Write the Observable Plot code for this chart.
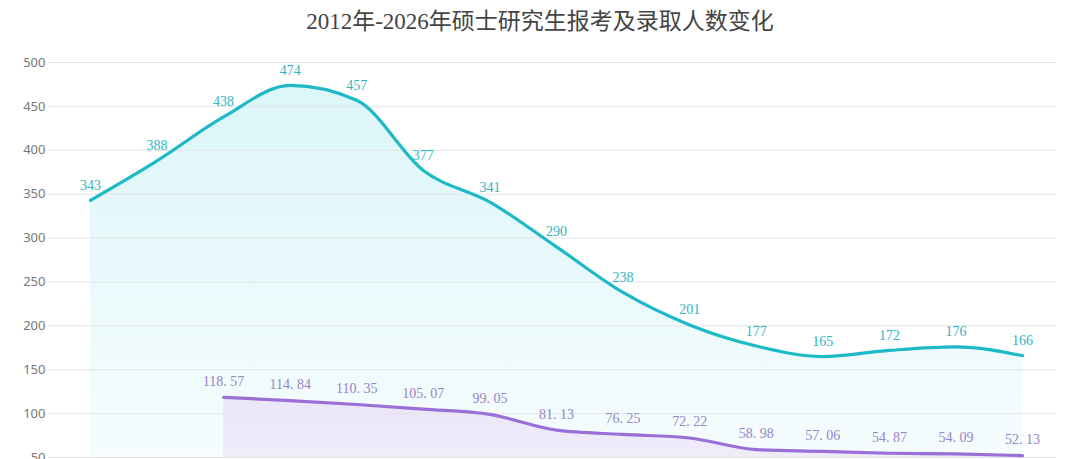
<!DOCTYPE html>
<html>
<head>
<meta charset="utf-8">
<script src="https://cdn.jsdelivr.net/npm/d3@7"></script>
<script src="https://cdn.jsdelivr.net/npm/@observablehq/plot@0.6"></script>
<style>
  html, body { margin: 0; padding: 0; background: #fff; }
  #title {
    height: 45px; line-height: 44px; text-align: center;
    font-family: "Liberation Serif", "DejaVu Serif", "Noto Sans CJK SC", serif;
    font-size: 23px; color: #444;
  }
  #chart svg { display: block; }
</style>
</head>
<body>
<div id="title">2012年-2026年硕士研究生报考及录取人数变化</div>
<div id="chart"></div>
<script>
const years = [2026, 2025, 2024, 2023, 2022, 2021, 2020, 2019, 2018, 2017, 2016, 2015, 2014, 2013, 2012];
const applicants = [343, 388, 438, 474, 457, 377, 341, 290, 238, 201, 177, 165, 172, 176, 166];
const admitYears = [2024, 2023, 2022, 2021, 2020, 2019, 2018, 2017, 2016, 2015, 2014, 2013, 2012];
const admitted = [118.57, 114.84, 110.35, 105.07, 99.05, 81.13, 76.25, 72.22, 58.98, 57.06, 54.87, 54.09, 52.13];
const yTicks = [50, 100, 150, 200, 250, 300, 350, 400, 450, 500];

const appData = years.map((y, i) => ({year: y, value: applicants[i]}));
const admData = admitYears.map((y, i) => ({year: y, value: admitted[i]}));

const cyan = "#1db9c7";
const purple = "#9a6fd8";
const curve = "monotone-x";
const numFont = "'Liberation Serif', 'DejaVu Serif', serif";

const plot = Plot.plot({
  width: 1080,
  height: 414,
  marginTop: 17,
  marginBottom: 2,
  marginLeft: 48,
  marginRight: 24,
  style: {background: "transparent", fontFamily: "'Noto Sans', 'DejaVu Sans', sans-serif"},
  x: {type: "linear", domain: [2026.63, 2011.49], axis: null},
  y: {domain: [50, 500], ticks: yTicks, label: null},
  marks: [
    Plot.areaY(appData, {x: "year", y1: 0, y2: "value", curve, fill: "url(#gradCyan)", clip: true}),
    Plot.areaY(admData, {x: "year", y1: 0, y2: "value", curve, fill: "url(#gradPurple)", clip: true}),
    Plot.gridY(yTicks, {stroke: "#e4e4e8", strokeOpacity: 1, strokeWidth: 1}),
    Plot.axisY(yTicks, {tickSize: 0, tickPadding: 3, fontSize: 13, fill: "#777", tickFormat: d => d, label: null}),
    Plot.lineY(appData, {x: "year", y: "value", curve, stroke: cyan, strokeWidth: 3.2}),
    Plot.lineY(admData, {x: "year", y: "value", curve, stroke: purple, strokeWidth: 3.2}),
    Plot.text(appData, {x: "year", y: "value", text: d => String(d.value), dy: -15, fill: "#2fb4c2", fontSize: 14, fontFamily: numFont}),
    Plot.text(admData, {x: "year", y: "value", text: d => d3.format(".2f")(d.value).replace(".", ". "), dy: -16, fill: "#9585c6", fontSize: 14, fontFamily: numFont})
  ]
});

const svg = d3.select(plot);
const defs = svg.insert("defs", ":first-child");
const g1 = defs.append("linearGradient").attr("id", "gradCyan").attr("x1", 0).attr("y1", 0).attr("x2", 0).attr("y2", 1);
g1.append("stop").attr("offset", "0%").attr("stop-color", "#dcf6f9");
g1.append("stop").attr("offset", "100%").attr("stop-color", "#f9fdfe");
const g2 = defs.append("linearGradient").attr("id", "gradPurple").attr("x1", 0).attr("y1", 0).attr("x2", 0).attr("y2", 1);
g2.append("stop").attr("offset", "0%").attr("stop-color", "#ebe6f8");
g2.append("stop").attr("offset", "100%").attr("stop-color", "#f3f0fb");

document.getElementById("chart").appendChild(plot);
</script>
</body>
</html>
